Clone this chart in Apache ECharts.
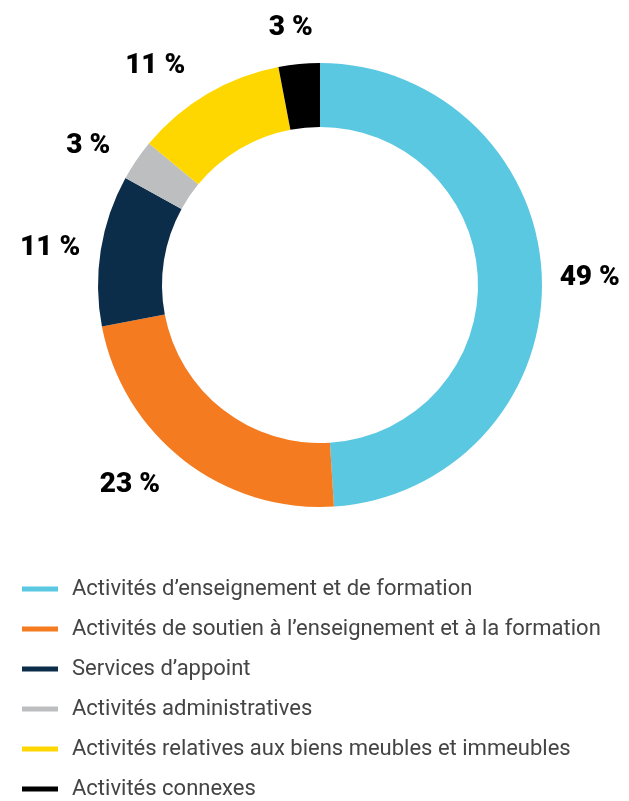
<!DOCTYPE html>
<html>
<head>
<meta charset="utf-8">
<script src="https://cdn.jsdelivr.net/npm/echarts@6/dist/echarts.min.js"></script>
<style>
  html, body { margin: 0; padding: 0; background: #fff; }
  #chart { width: 629px; height: 801px; }
</style>
</head>
<body>
<div id="chart"></div>
<script>
const categories = [
  'Activités d’enseignement et de formation',
  'Activités de soutien à l’enseignement et à la formation',
  'Services d’appoint',
  'Activités administratives',
  'Activités relatives aux biens meubles et immeubles',
  'Activités connexes'
]
const values = [49, 23, 11, 3, 11, 3]
const colors = ['#5bc8e1', '#f47b20', '#0c2d4a', '#bcbec0', '#ffd700', '#000000']

// labels sit a bit further out near top and bottom, like a box around the text
const total = values.reduce((a, b) => a + b, 0)
const midAngles = []
let cum = 0
const pieData = categories.map((name, i) => {
  const mid = (cum + values[i] / 2) / total * Math.PI * 2
  midAngles.push(mid)
  cum += values[i]
  return {
    name: name,
    value: values[i],
    labelLine: { length: 12 + 24 * Math.abs(Math.cos(mid)) }
  }
})

const chart = echarts.init(document.getElementById('chart'))
chart.setOption({
  animation: false,
  color: colors,
  legend: {
    orient: 'vertical',
    left: 22,
    top: 578,
    height: 300,
    padding: 0,
    icon: 'rect',
    itemWidth: 36,
    itemHeight: 5,
    itemGap: 18,
    selectedMode: false,
    textStyle: {
      fontFamily: 'Roboto',
      fontSize: 22,
      color: '#444',
      padding: [0, 0, 0, 9]
    },
    data: categories
  },
  series: [{
    type: 'pie',
    center: [320, 285],
    radius: [158, 222],
    startAngle: 90,
    clockwise: true,
    avoidLabelOverlap: false,
    data: pieData,
    label: {
      show: true,
      position: 'outside',
      formatter: '{c} %',
      fontFamily: 'Roboto',
      fontWeight: 900,
      fontSize: 28,
      color: '#000'
    },
    labelLine: { show: false, length2: 0 },
    labelLayout: function (params) {
      // the label right at the top is centred over its slice
      if (Math.abs(Math.sin(midAngles[params.dataIndex])) < 0.2) {
        return { align: 'center' }
      }
      return {}
    },
    itemStyle: { borderWidth: 0 },
    emphasis: { disabled: true }
  }]
})
</script>
</body>
</html>
